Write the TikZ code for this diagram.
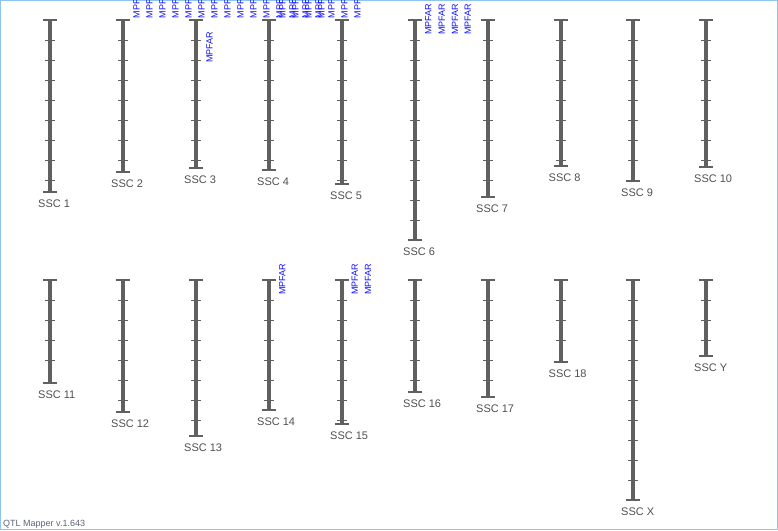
\documentclass[tikz,border=0pt]{standalone}
\usepackage{fontspec}
\setmainfont{Liberation Sans}
\usepackage{xcolor}
\definecolor{chromgrau}{HTML}{606060}
\definecolor{qtlblau}{HTML}{1010FF}
\definecolor{rahmen}{HTML}{8EC5EC}
\definecolor{textgrau}{HTML}{505050}
\definecolor{versiongrau}{HTML}{5A6478}

\begin{document}
\begin{tikzpicture}[x=1pt, y=-1pt,
        chrom/.style={line width=4pt, chromgrau},
        kappe/.style={line width=1.5pt, chromgrau},
        strich/.style={line width=1pt, chromgrau},
        qtl/.style={rotate=90, anchor=west, inner sep=0pt, text=qtlblau, font=\fontsize{9}{9}\selectfont},
        ssclabel/.style={anchor=base west, inner sep=0pt, text=textgrau, font=\fontsize{11}{11}\selectfont}]
        % Rahmen
        \useasboundingbox (0,0) rectangle (778,530);
        \clip (0,0) rectangle (778,530);
        \draw[rahmen, line width=1pt] (0.5,0.5) rectangle (777.5,529.5);
        % Chromosomen
        \foreach \x/\y/\b/\n in {50/20/192/1, 123/20/172/2, 196/20/168/3, 269/20/170/4, 342/20/184/5,
                                  415/20/240/6, 488/20/197/7, 560.5/20/166/8, 633/20/181/9, 706/20/167/10,
                                  50/280/383/11, 123/280/412/12, 196/280/436/13, 269/280/410/14, 342/280/424/15,
                                  415/280/392/16, 488/280/397/17, 560.5/280/362/18, 633/280/500/X, 706/280/356/Y}
        {
            \draw[chrom] (\x,\y) -- (\x,\b);
            \draw[kappe] (\x-7,\y) -- (\x+7,\y);
            \draw[kappe] (\x-7,\b) -- (\x+7,\b);
            \foreach \t in {20,40,...,220}
            {
                \ifnum\numexpr\y+\t\relax<\numexpr\b-3\relax
                    \draw[strich] (\x-5,\y+\t) -- (\x+5,\y+\t);
                \fi
            }
            \node[ssclabel] (ssc\n) at (\x-12,\b+15) {SSC \n};
        }
        % QTL
        \foreach \x/\y [count=\i] in {136.5/18.5, 149.5/18.5, 162.5/18.5, 175.5/18.5, 188.5/18.5, 201.5/18.5,
                                      214.5/18.5, 227.5/18.5, 240.5/18.5, 253.5/18.5, 266.5/18.5,
                                      279.5/18.5, 282.5/18.5, 292.5/18.5, 295.5/18.5, 305.5/18.5, 308.5/18.5,
                                      318.5/18.5, 321.5/18.5, 331.5/18.5, 344.5/18.5, 357.5/18.5,
                                      209.5/63, 428.3/35, 441.7/35, 455/35, 467.7/35,
                                      282.3/295, 354.7/295, 368/295}
        {
            \node[qtl] (qtl\i) at (\x,\y) {MPFAR};
        }
        % Version
        \node[anchor=base west, inner sep=0pt, text=versiongrau, font=\fontsize{9}{9}\selectfont] (version) at (3,526) {QTL Mapper v.1.643};
\end{tikzpicture}
\end{document}
